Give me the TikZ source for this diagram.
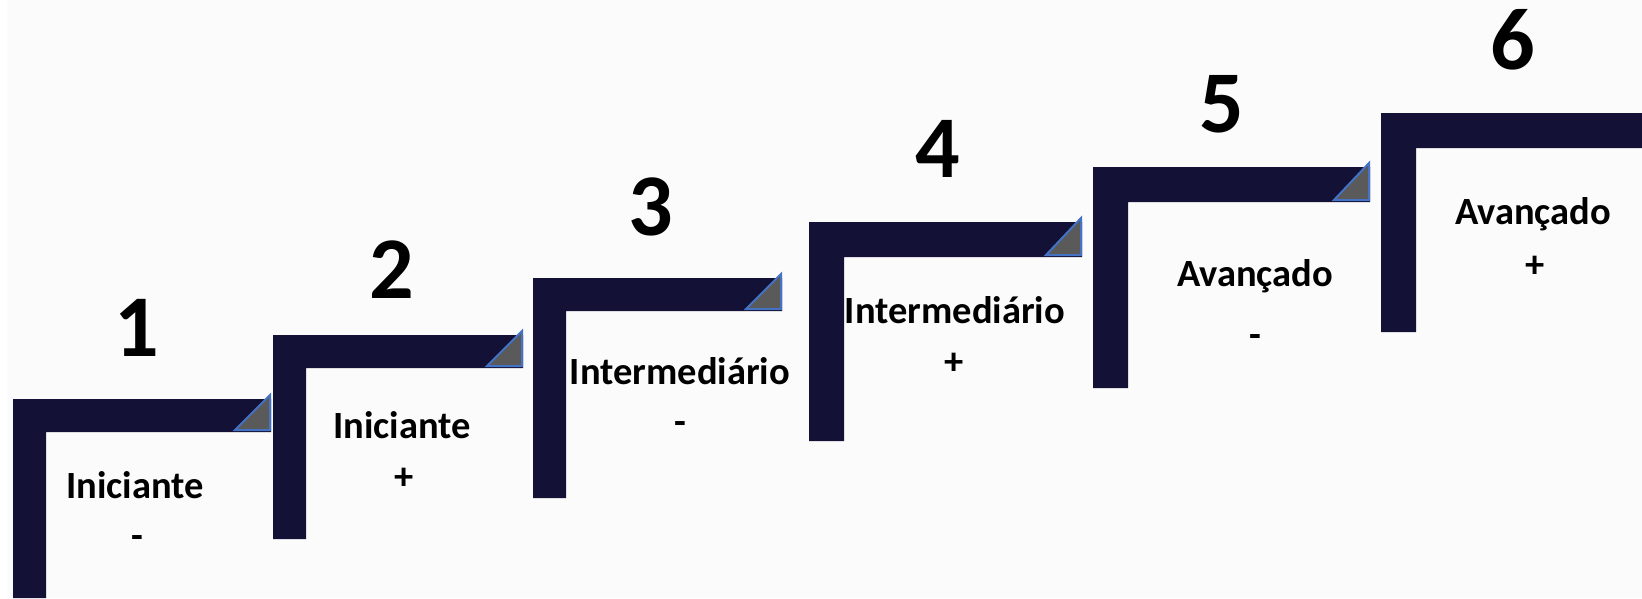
\documentclass[tikz,border=0pt]{standalone}
\usepackage{fontspec}
\setmainfont{Carlito}
\definecolor{bg}{RGB}{251,251,251}
\definecolor{navy}{RGB}{19,17,53}
\definecolor{trifill}{RGB}{90,90,90}
\definecolor{triedge}{RGB}{68,114,196}
\newcommand\drawstair[5]{% left, top, right, bottom, thickness
  \fill[navy] (#1,#2) -- (#3,#2) -- (#3,#2+#5) -- (#1+#5,#2+#5) -- (#1+#5,#4) -- (#1,#4) -- cycle;}
\newcommand\drawcorner[3]{% right, top, bottom
  \filldraw[cornertri] (#1-36,#3-2) -- (#1-1,#3-2) -- (#1-1,#2-4) -- cycle;}
\tikzset{
  cornertri/.style={fill=trifill, draw=triedge, line width=2pt, line join=miter},
  lbl/.style={font=\bfseries\fontsize{38.5}{38.5}\selectfont, inner sep=0pt, anchor=base},
  num/.style={font=\bfseries\fontsize{88}{88}\selectfont, inner sep=0pt, anchor=center}
}
\begin{document}
\begin{tikzpicture}[x=1pt,y=-1pt]
\useasboundingbox (0,0) rectangle (1642,598);
\fill[bg] (0,0) rectangle (1642,598);
\fill[white] (0,0) rectangle (7,598);
% stairs
\drawstair{13}{399}{271}{598}{33}
\drawstair{273}{335}{523}{539}{33}
\drawstair{533}{278}{782}{498}{33}
\drawstair{809}{222}{1082}{441}{35}
\drawstair{1093}{167}{1370}{388}{35}
\drawstair{1381}{113}{1642}{332}{35}
% corner triangles
\drawcorner{271}{399}{432}
\drawcorner{523}{335}{368}
\drawcorner{782}{278}{311}
\drawcorner{1082}{222}{257}
\drawcorner{1370}{167}{202}
% numbers
\node[num] (n1) at (137,328) {1};
\node[num] (n2) at (392,270) {2};
\node[num] (n3) at (651,207) {3};
\node[num] (n4) at (938,149) {4};
\node[num] (n5) at (1222,104) {5};
\node[num] (n6) at (1513,40) {6};
% labels
\node[lbl] (w1) at (135,498) {Iniciante};
\node[lbl] (s1) at (137,548) {-};
\node[lbl] (w2) at (402,438) {Iniciante};
\node[lbl] (s2) at (404,489) {+};
\node[lbl] (w3) at (680,384) {Intermediário};
\node[lbl] (s3) at (680,434) {-};
\node[lbl] (w4) at (955,323) {Intermediário};
\node[lbl] (s4) at (954,374) {+};
\node[lbl] (w5) at (1255,286) {Avançado};
\node[lbl] (s5) at (1255,347) {-};
\node[lbl] (w6) at (1533,224) {Avançado};
\node[lbl] (s6) at (1535,277) {+};
\end{tikzpicture}
\end{document}
